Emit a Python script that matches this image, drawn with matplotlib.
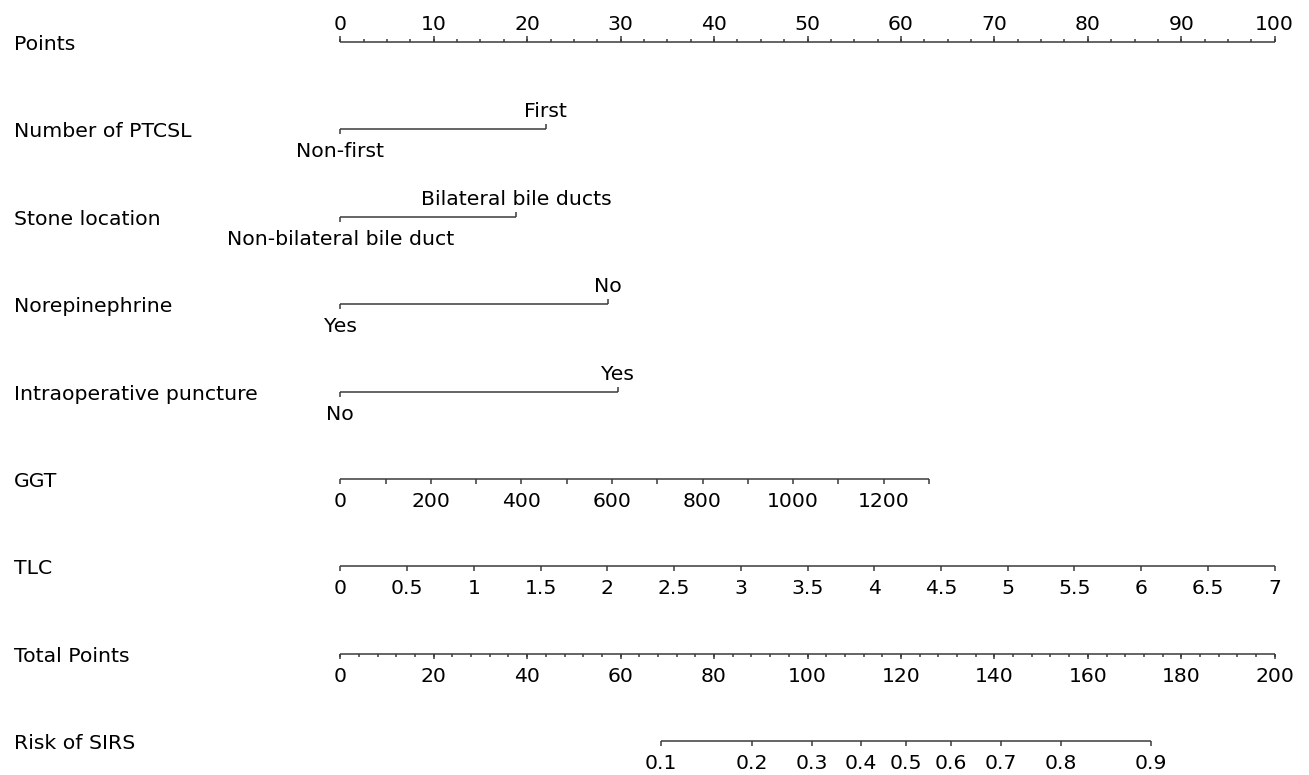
import numpy as np
import matplotlib
matplotlib.use("Agg")
import matplotlib.pyplot as plt

# ---------------- data ----------------
row_names = ["Points", "Number of PTCSL", "Stone location", "Norepinephrine",
             "Intraoperative puncture", "GGT", "TLC", "Total Points", "Risk of SIRS"]

points_major = np.arange(0, 101, 10)
points_minor = np.arange(0, 100.01, 2.5)

ptcsl_levels = ["Non-first", "First"]
ptcsl_points = [0.0, 22.0]
stone_levels = ["Non-bilateral bile duct", "Bilateral bile ducts"]
stone_points = [0.0, 18.8]
norepi_levels = ["Yes", "No"]
norepi_points = [0.0, 28.6]
puncture_levels = ["No", "Yes"]
puncture_points = [0.0, 29.7]

ggt_ticks = np.arange(0, 1301, 100)
ggt_labels = np.arange(0, 1201, 200)
ggt_max_value = 1300
ggt_max_points = 63.0

tlc_ticks = np.arange(0, 7.01, 0.5)
tlc_max_value = 7.0
tlc_max_points = 100.0

total_major = np.arange(0, 201, 20)
total_minor = np.arange(0, 200.01, 4)
total_max = 200.0

risk_ticks = [0.1, 0.2, 0.3, 0.4, 0.5, 0.6, 0.7, 0.8, 0.9]
lp_intercept = -5.078
lp_slope = 0.04193

# ---------------- layout ----------------
W, H, DPI = 1309, 775, 100
x0_px, px_per_pt = 340.3, 9.344
row0_px, row_px = 42.0, 87.4

fig = plt.figure(figsize=(W / DPI, H / DPI), dpi=DPI)
ax = fig.add_axes([0, 0, 1, 1])
ax.set_xlim(-x0_px / px_per_pt, (W - x0_px) / px_per_pt)
ax.set_ylim((H - row0_px) / row_px, -row0_px / row_px)
ax.axis("off")

FS = 14.7
COL = "#3a3a3a"
LW = 1.1
py = 1.0 / row_px          # one pixel in y data units
name_x = (14 - x0_px) / px_per_pt


def line(y, a, b):
    ax.plot([a, b], [y, y], color=COL, lw=LW, solid_capstyle="butt")


def tick(x, y, length_px, up=True):
    d = -length_px * py if up else length_px * py
    ax.plot([x, x], [y, y + d], color=COL, lw=LW, solid_capstyle="butt")


def label(x, y, s, above=True, off_px=None):
    if above:
        off = off_px if off_px is not None else 8
        ax.text(x, y - off * py, s, ha="center", va="bottom", fontsize=FS, color="black")
    else:
        off = off_px if off_px is not None else 13
        ax.text(x, y + off * py, s, ha="center", va="top", fontsize=FS, color="black")


for i, n in enumerate(row_names):
    ax.text(name_x, i + 2.5 * py, n, ha="left", va="center", fontsize=FS, color="black")

# Points row
y = 0
line(y, 0, 100)
for v in points_minor:
    tick(v, y, 3, up=True)
for v in points_major:
    tick(v, y, 6, up=True)
    label(v, y, f"{v:g}", above=True, off_px=8)

# categorical rows
cats = [(ptcsl_levels, ptcsl_points), (stone_levels, stone_points),
        (norepi_levels, norepi_points), (puncture_levels, puncture_points)]
for k, (levels, pts) in enumerate(cats):
    y = k + 1
    line(y, min(pts), max(pts))
    lo = int(np.argmin(pts)); hi = int(np.argmax(pts))
    tick(pts[lo], y, 5, up=False)
    label(pts[lo], y, levels[lo], above=False, off_px=13)
    tick(pts[hi], y, 5, up=True)
    label(pts[hi], y, levels[hi], above=True, off_px=8)

# GGT
y = 5
scale = ggt_max_points / ggt_max_value
line(y, 0, ggt_max_value * scale)
for v in ggt_ticks:
    tick(v * scale, y, 5, up=False)
for v in ggt_labels:
    label(v * scale, y, f"{v:g}", above=False)

# TLC
y = 6
scale = tlc_max_points / tlc_max_value
line(y, 0, tlc_max_value * scale)
for v in tlc_ticks:
    tick(v * scale, y, 5, up=False)
    label(v * scale, y, f"{v:g}", above=False)

# Total points
y = 7
scale = 100.0 / total_max
line(y, 0, total_max * scale)
for v in total_minor:
    tick(v * scale, y, 3, up=False)
for v in total_major:
    tick(v * scale, y, 5, up=False)
    label(v * scale, y, f"{v:g}", above=False)

# Risk
y = 8
risk_total = [(np.log(p / (1 - p)) - lp_intercept) / lp_slope for p in risk_ticks]
risk_x = [t * scale for t in risk_total]
line(y, min(risk_x), max(risk_x))
for p, xv in zip(risk_ticks, risk_x):
    tick(xv, y, 5, up=False)
    label(xv, y, f"{p:g}", above=False, off_px=13)

fig.savefig("out.png", dpi=DPI, facecolor="white")
